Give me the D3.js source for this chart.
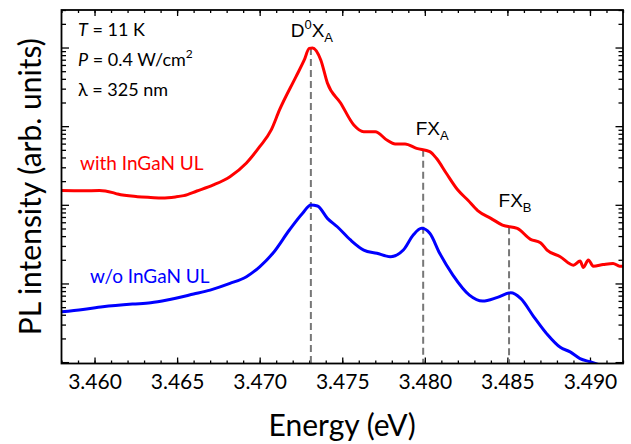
<!DOCTYPE html>
<html>
<head>
<meta charset="utf-8">
<script src="https://cdn.jsdelivr.net/npm/d3@7"></script>
<style>
  body { margin: 0; background: #fff; }
  svg { display: block; }
</style>
</head>
<body>
<div id="plot"></div>
<script>
// PL spectra, energy in eV, intensity in arb. units (log axis)
var withEnergy = [3.4580, 3.4593, 3.4603, 3.4611, 3.4614, 3.4626, 3.4634, 3.4641, 3.4649, 3.4654,
  3.4662, 3.4672, 3.4682, 3.4692, 3.4700, 3.4707, 3.4712, 3.4722, 3.4727, 3.4730,
  3.4732, 3.4737, 3.4741, 3.4749, 3.4757, 3.4763, 3.4770, 3.4777, 3.4782, 3.4788,
  3.4795, 3.4803, 3.4807, 3.4813, 3.4820, 3.4826, 3.4832, 3.4840, 3.4847, 3.4856,
  3.4864, 3.4870, 3.4874, 3.4882, 3.4890, 3.4894, 3.4896, 3.4899, 3.4902, 3.4908,
  3.4914, 3.4918, 3.4920];
var withIntensity = [152, 151, 152, 143, 137, 127, 124, 122, 126, 131,
  150, 179, 228, 340, 548, 895, 1607, 4265, 6955, 9743,
  9886, 6955, 3545, 1973, 1036, 851, 851, 667, 594, 594,
  523, 474, 390, 252, 154, 115, 84.6, 67.3, 55.3, 50.2,
  36.4, 33, 26.6, 21.9, 17.1, 19.3, 16.0, 19.9, 16.6, 17.4,
  18.0, 16.6, 16.6];

var withoutEnergy = [3.4580, 3.4593, 3.4605, 3.4623, 3.4634, 3.4644, 3.4660, 3.4670, 3.4682, 3.4692,
  3.4700, 3.4708, 3.4718, 3.4726, 3.4731, 3.4735, 3.4741, 3.4747, 3.4755, 3.4763,
  3.4771, 3.4779, 3.4787, 3.4793, 3.4798, 3.4803, 3.4809, 3.4817, 3.4827, 3.4835,
  3.4844, 3.4852, 3.4858, 3.4866, 3.4874, 3.4882, 3.4888, 3.4894, 3.4900, 3.4906];
var withoutIntensity = [4.36, 4.68, 5.05, 5.47, 5.68, 6.15, 7.33, 8.24, 10.0, 12.2,
  16.3, 24.2, 47.8, 78, 99.4, 96.6, 67.3, 52.6, 35.7, 26.6,
  24.2, 21.9, 26.6, 41.3, 50.2, 43.4, 24.2, 12.8, 7.12, 5.97,
  6.66, 7.61, 6.46, 3.77, 2.27, 1.54, 1.35, 1.11, 1.01, 0.92];

// peak markers: name, subscript, superscript, energy, intensity on red curve
var peakNames = ["D", "FX", "FX"];
var peakSup = ["0", "", ""];
var peakSub = ["A", "A", "B"];
var peakEnergy = [3.4731, 3.4799, 3.4851];
var peakTop = [9886, 500, 52];

var xTicks = [3.460, 3.465, 3.470, 3.475, 3.480, 3.485, 3.490];

var conditions = ["T", "P", "λ"];
var conditionText = [" = 11 K", " = 0.4 W/cm", " = 325 nm"];

var margin = {top: 10, right: 8, bottom: 80.5, left: 61.5},
    width = 631 - margin.left - margin.right,
    height = 444 - margin.top - margin.bottom;

var svg = d3.select("div#plot")
  .append("svg")
    .attr("width", 631)
    .attr("height", 444)
  .append("g")
    .attr("transform", "translate(" + margin.left + "," + margin.top + ")");

var x = d3.scaleLinear().domain([3.458, 3.492]).range([0, width]);
var y = d3.scaleLog().domain([0.96, 3e4]).range([height, 0]);

var defs = svg.append("defs");
defs.append("clipPath").attr("id", "clip")
  .append("rect").attr("width", width).attr("height", height);

// ticks
var xMinor = d3.range(3458, 3493).map(function(d) { return d / 1000; });
var yMajor = [1, 10, 100, 1000, 10000];
var yMinor = [];
[1, 10, 100, 1000, 10000].forEach(function(b) {
  for (var k = 2; k <= 9; k++) { if (b * k <= 3e4) yMinor.push(b * k); }
});

function styleAxis(g) {
  g.select(".domain").remove();
  g.selectAll("line").attr("stroke", "#000").attr("stroke-width", 1.3);
}

svg.append("g").attr("transform", "translate(0," + height + ")")
  .call(d3.axisBottom(x).tickValues(xMinor).tickSizeInner(-3).tickSizeOuter(0).tickFormat(""))
  .call(styleAxis);
svg.append("g").attr("transform", "translate(0," + height + ")")
  .call(d3.axisBottom(x).tickValues(xTicks).tickSizeInner(-6).tickSizeOuter(0).tickPadding(11)
    .tickFormat(d3.format(".3f")))
  .call(styleAxis)
  .selectAll("text")
    .style("font-family", "Lato, 'Open Sans', sans-serif")
    .style("font-size", "21px")
    .attr("fill", "#000");
svg.append("g")
  .call(d3.axisTop(x).tickValues(xMinor).tickSizeInner(-3).tickSizeOuter(0).tickFormat(""))
  .call(styleAxis);
svg.append("g")
  .call(d3.axisTop(x).tickValues(xTicks).tickSizeInner(-6).tickSizeOuter(0).tickFormat(""))
  .call(styleAxis);

svg.append("g")
  .call(d3.axisLeft(y).tickValues(yMinor).tickSizeInner(-4.5).tickSizeOuter(0).tickFormat(""))
  .call(styleAxis);
svg.append("g")
  .call(d3.axisLeft(y).tickValues(yMajor).tickSizeInner(-7.5).tickSizeOuter(0).tickFormat(""))
  .call(styleAxis);
svg.append("g").attr("transform", "translate(" + width + ",0)")
  .call(d3.axisRight(y).tickValues(yMinor).tickSizeInner(-4.5).tickSizeOuter(0).tickFormat(""))
  .call(styleAxis);
svg.append("g").attr("transform", "translate(" + width + ",0)")
  .call(d3.axisRight(y).tickValues(yMajor).tickSizeInner(-7.5).tickSizeOuter(0).tickFormat(""))
  .call(styleAxis);

// dashed peak lines
svg.selectAll(".peakline")
  .data(peakEnergy)
  .enter().append("line")
  .attr("class", "peakline")
  .attr("x1", function(d) { return x(d); })
  .attr("x2", function(d) { return x(d); })
  .attr("y1", function(d, i) { return y(peakTop[i]); })
  .attr("y2", height)
  .attr("stroke", "#777")
  .attr("stroke-width", 2)
  .attr("stroke-dasharray", "7,4");

// spectra
var line = d3.line()
  .curve(d3.curveMonotoneX)
  .x(function(d) { return x(d[0]); })
  .y(function(d) { return y(d[1]); });

var redData = d3.zip(withEnergy, withIntensity);
var blueData = d3.zip(withoutEnergy, withoutIntensity);

svg.append("path")
  .datum(blueData)
  .attr("clip-path", "url(#clip)")
  .attr("d", line)
  .attr("fill", "none")
  .attr("stroke", "#0000ff")
  .attr("stroke-width", 3)
  .attr("stroke-linejoin", "round");

svg.append("path")
  .datum(redData)
  .attr("clip-path", "url(#clip)")
  .attr("d", line)
  .attr("fill", "none")
  .attr("stroke", "#ff0000")
  .attr("stroke-width", 3)
  .attr("stroke-linejoin", "round");

// frame
svg.append("rect")
  .attr("width", width)
  .attr("height", height)
  .attr("fill", "none")
  .attr("stroke", "#000")
  .attr("stroke-width", 1.8);

// peak labels
var labelY = [37, 135, 207];
var labelDx = [1, 9, 6];
peakEnergy.forEach(function(e, i) {
  var t = svg.append("text")
    .attr("x", x(e) + labelDx[i])
    .attr("y", labelY[i] - margin.top)
    .attr("text-anchor", "middle")
    .style("font-family", "'Liberation Sans', Arial, sans-serif")
    .style("font-size", "19px")
    .attr("fill", "#000");
  t.append("tspan").text(peakNames[i]);
  if (peakSup[i]) {
    t.append("tspan").attr("dy", -8).style("font-size", "13px").text(peakSup[i]);
    t.append("tspan").attr("dy", 8).text("X");
  }
  t.append("tspan").attr("dy", 5).style("font-size", "13px").text(peakSub[i]);
});

// conditions
var condY = [36, 66, 96];
conditions.forEach(function(c, i) {
  var t = svg.append("text")
    .attr("x", 78 - margin.left)
    .attr("y", condY[i] - margin.top)
    .style("font-family", "Lato, sans-serif")
    .style("font-size", "18px")
    .attr("fill", "#000");
  t.append("tspan").style("font-style", i < 2 ? "italic" : "normal").text(c);
  t.append("tspan").text(conditionText[i]);
  if (i === 1) t.append("tspan").attr("dy", -8).style("font-size", "12px").text("2");
});

// series labels
svg.append("text")
  .attr("x", 80 - margin.left).attr("y", 170 - margin.top)
  .style("font-family", "Lato, sans-serif").style("font-size", "19px")
  .attr("fill", "#ff0000")
  .text("with InGaN UL");
svg.append("text")
  .attr("x", 90 - margin.left).attr("y", 283 - margin.top)
  .style("font-family", "Lato, sans-serif").style("font-size", "19px")
  .attr("fill", "#0000ff")
  .text("w/o InGaN UL");

// axis titles
svg.append("text")
  .attr("x", width / 2)
  .attr("y", height + 72)
  .attr("text-anchor", "middle")
  .style("font-family", "Lato, sans-serif")
  .style("font-size", "30px")
  .attr("fill", "#000")
  .text("Energy (eV)");

svg.append("text")
  .attr("transform", "translate(" + (41 - margin.left) + "," + (height / 2) + ") rotate(-90)")
  .attr("text-anchor", "middle")
  .style("font-family", "Lato, sans-serif")
  .style("font-size", "30px")
  .attr("fill", "#000")
  .text("PL intensity (arb. units)");
</script>
</body>
</html>
